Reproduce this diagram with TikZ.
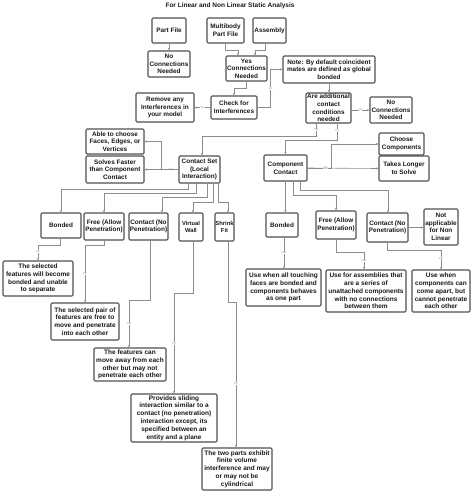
\documentclass[tikz,border=0pt]{standalone}
\usepackage{fontspec}
\setmainfont{Liberation Sans}
\usetikzlibrary{arrows.meta}
\definecolor{boxline}{HTML}{505050}
\definecolor{conn}{HTML}{8C8C8C}
\definecolor{txt}{HTML}{1A1A1A}
\begin{document}
\begin{tikzpicture}[x=1pt,y=-1pt,
  bx/.style={draw=boxline,line width=1.1pt,rounded corners=1.2pt,fill=white,align=center,inner sep=0pt,
    text=txt,font=\fontsize{6.4}{7.6}\selectfont\bfseries},
  ib/.style={bx,font=\fontsize{6.5}{7.8}\selectfont\bfseries},
  nb/.style={bx,font=\fontsize{5.8}{7.4}\selectfont\bfseries},
  arr/.style={draw=conn,line width=0.6pt,-{Stealth[length=2.6pt,width=2.2pt]}},
  lbl/.style={fill=white,inner sep=0.3pt,text=conn,font=\fontsize{2.6}{3}\selectfont}]
\useasboundingbox (0,0) rectangle (474,498);
\node[font=\fontsize{6.5}{7.8}\selectfont\bfseries,text=txt] (title) at (230,6) {For Linear and Non Linear Static Analysis};
% top row
\node[bx,minimum width=34,minimum height=25] (partfile) at (169,30.5) {Part File};
\node[bx,minimum width=42,minimum height=26] (noconnA) at (169,64) {No\\Connections\\Needed};
\node[bx,minimum width=37,minimum height=25] (multibody) at (225.5,30.5) {Multibody\\Part File};
\node[bx,minimum width=33,minimum height=25] (assembly) at (269.5,30.5) {Assembly};
\node[bx,minimum width=41,minimum height=25] (yes) at (246.5,68.5) {Yes\\Connections\\Needed};
\node[bx,minimum width=92,minimum height=27] (note) at (329,69.5) {Note: By default coincident\\mates are defined as global\\bonded};
\node[bx,minimum width=58,minimum height=29] (remove) at (165,107.5) {Remove any\\Interferences in\\your model};
\node[bx,minimum width=46,minimum height=23] (check) at (234,107.5) {Check for\\Interferences};
\node[bx,minimum width=45,minimum height=30] (areadd) at (328.5,108) {Are additional\\contact\\conditions\\needed};
\node[bx,minimum width=42,minimum height=26] (noconnB) at (391,110) {No\\Connections\\Needed};
% middle
\node[bx,minimum width=58,minimum height=25] (able) at (115,141.5) {Able to choose\\Faces, Edges, or\\Vertices};
\node[bx,minimum width=58,minimum height=27] (solves) at (115,169.5) {Solves Faster\\than Component\\Contact};
\node[bx,minimum width=41,minimum height=27] (cset) at (199.5,169.5) {Contact Set\\(Local\\Interaction)};
\node[bx,minimum width=43,minimum height=26] (comp) at (285.5,168) {Component\\Contact};
\node[bx,minimum width=45,minimum height=22] (choose) at (401.5,144) {Choose\\Components};
\node[bx,minimum width=50,minimum height=25] (takes) at (404,168.5) {Takes Longer\\to Solve};
% type row
\node[bx,minimum width=40,minimum height=25] (bondL) at (61,225.5) {Bonded};
\node[bx,minimum width=40,minimum height=27] (freeL) at (104,226.5) {Free (Allow\\Penetration)};
\node[bx,minimum width=39,minimum height=27] (contL) at (148.5,226.5) {Contact (No\\Penetration)};
\node[nb,minimum width=24,minimum height=28] (vwall) at (191,227) {Virtual\\Wall};
\node[nb,minimum width=19,minimum height=28] (shrink) at (224.5,227) {Shrink\\Fit};
\node[bx,minimum width=32,minimum height=24] (bondR) at (282,225) {Bonded};
\node[bx,minimum width=40,minimum height=28] (freeR) at (336,225) {Free (Allow\\Penetration)};
\node[bx,minimum width=41,minimum height=29] (contR) at (387.5,227.5) {Contact (No\\Penetration)};
\node[bx,minimum width=34,minimum height=36] (notapp) at (441,227) {Not\\applicable\\for Non\\Linear};
% info boxes
\node[ib,minimum width=70,minimum height=35] (iBondL) at (38,278.5) {The selected\\features will become\\bonded and unable\\to separate};
\node[ib,minimum width=68,minimum height=37] (iFreeL) at (85,321.5) {The selected pair of\\features are free to\\move and penetrate\\into each other};
\node[ib,minimum width=72,minimum height=33] (iContL) at (130,364.5) {The features can\\move away from each\\other but may not\\penetrate each other};
\node[ib,minimum width=86,minimum height=48] (iVW) at (174,418) {Provides sliding\\interaction similar to a\\contact (no penetration)\\interaction except, its\\specified between an\\entity and a plane};
\node[ib,minimum width=70,minimum height=42] (iSF) at (237,469) {The two parts exhibit\\finite volume\\interference and may\\or may not be\\cylindrical};
\node[ib,minimum width=75,minimum height=37] (iBondR) at (283.5,287.5) {Use when all touching\\faces are bonded and\\components behaves\\as one part};
\node[ib,minimum width=80,minimum height=42] (iFreeR) at (366,291) {Use for assemblies that\\are a series of\\unattached components\\with no connections\\between them};
\node[ib,minimum width=58,minimum height=42] (iContR) at (441,291) {Use when\\components can\\come apart, but\\cannot penetrate\\each other};
% connectors top
\draw[arr] (partfile.south) -- (noconnA.north);
\draw[arr] (multibody.south) -- ++(0,7) -| ([xshift=-8.5pt]yes.north);
\draw[arr] ([xshift=-4.5pt]assembly.south) -- ++(0,7) -| ([xshift=8.5pt]yes.north);
\draw[arr] (yes.south) -- ++(0,7) -| (check.north);
\draw[arr] (check.west) -- node[lbl]{Yes} (remove.east);
\draw[arr] (check.east) -- ++(13,0) |- node[lbl,pos=0.25]{No} (note.west);
\draw[arr] (note.south) -- (note.south |- areadd.north);
\draw[arr] (areadd.east |- noconnB.west) -- node[lbl]{No} (noconnB.west);
\draw[arr] ([xshift=-12.5pt]areadd.south) -- node[lbl,pos=0.5]{Yes} ++(0,13) -| ([xshift=2.5pt]cset.north);
\draw[arr] ([xshift=8.5pt]areadd.south) -- node[lbl,pos=0.4]{Yes} ++(0,17) -| (comp.north);
\draw[arr] (cset.west) -- node[lbl,pos=0.45]{Info} ++(-17,0) |- (able.east);
\draw[arr] (cset.west) -- (solves.east);
\draw[arr] (comp.east) -- node[lbl,pos=0.75]{Info} ++(24,0) |- (choose.west);
\draw[arr] (comp.east) -- (takes.west);
% contact set branches
\draw[arr] ([xshift=-11.5pt]cset.south) -- ++(0,6) -| (bondL.north);
\draw[arr] ([xshift=-3pt]cset.south) -- ++(0,10) -| (freeL.north);
\draw[arr] ([xshift=7.5pt]cset.south) -- ++(0,14) -| ([xshift=13.5pt]contL.north);
\draw[arr] ([xshift=14pt]cset.south) -- ++(0,19) -| ([xshift=2pt]vwall.north);
\draw[arr] ([xshift=19pt]cset.south) -- ++(0,19) -| ([xshift=3.5pt]shrink.north);
% component contact branches
\draw[arr] (comp.south) -- (comp.south |- bondR.north);
\draw[arr] ([xshift=7.5pt]comp.south) -- ++(0,14) -| (freeR.north);
\draw[arr] ([xshift=14.5pt]comp.south) -- ++(0,9) -| ([xshift=0.5pt]contR.north);
\draw[arr] (contR.east) -- (notapp.west |- contR.east);
% info connectors right
\draw[arr] ([xshift=2pt]bondR.south) -- node[lbl]{Info} ([xshift=2pt]bondR.south |- iBondR.north);
\draw[arr] (freeR.south) -- ++(0,13) -| node[lbl,pos=0.75]{Info} ([xshift=-2pt]iFreeR.north);
\draw[arr] ([xshift=-0.5pt]contR.south) -- ++(0,8) -| node[lbl,pos=0.7]{Info} (iContR.north);
% info connectors left
\draw[arr] ([xshift=-1pt]bondL.south) -- ++(0,7) -| node[lbl,pos=0.7]{Info} (iBondL.north);
\draw[arr] (freeL.south) -- ++(0,5) -| node[lbl,pos=0.75]{Info} (iFreeL.north);
\draw[arr] ([xshift=1.5pt]contL.south) -- ++(0,60) -| node[lbl,pos=0.75]{Info} ([xshift=-1pt]iContL.north);
\draw[arr] ([xshift=2pt]vwall.south) -- ++(0,52) -| node[lbl,pos=0.75]{Info} (iVW.north);
\draw[arr] ([xshift=3.5pt]shrink.south) -- ++(0,61) -| node[lbl,pos=0.78]{Info} ([xshift=-1pt]iSF.north);
\end{tikzpicture}
\end{document}
